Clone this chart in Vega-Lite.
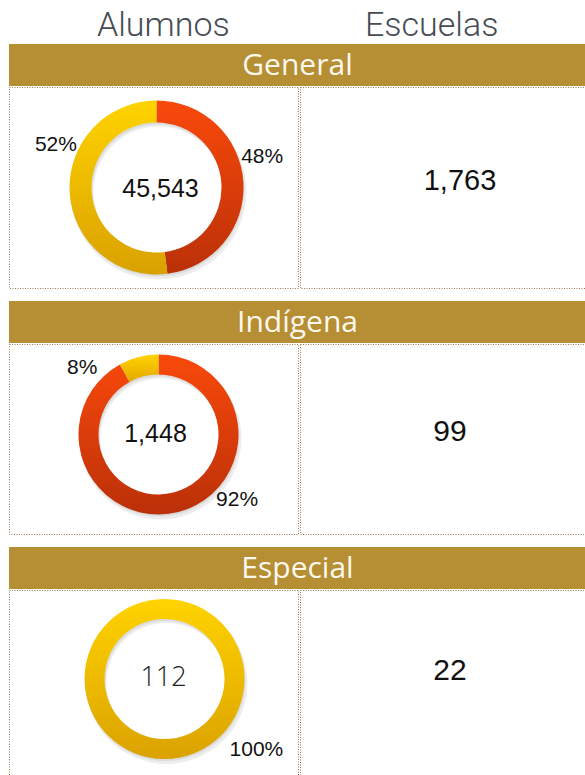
{
  "$schema": "https://vega.github.io/schema/vega-lite/v6.json",
  "padding": {"left": 8, "top": 0, "right": 0, "bottom": 0},
  "background": "white",
  "spacing": 12,
  "config": {"view": {"stroke": null}},
  "datasets": {
    "segmentos": [
      {"nivel": "General", "grupo": "A", "alumnos": 21861, "porcentaje": 0.48},
      {"nivel": "General", "grupo": "B", "alumnos": 23682, "porcentaje": 0.52},
      {"nivel": "Indígena", "grupo": "A", "alumnos": 1332, "porcentaje": 0.92},
      {"nivel": "Indígena", "grupo": "B", "alumnos": 116, "porcentaje": 0.08},
      {"nivel": "Especial", "grupo": "A", "alumnos": 0, "porcentaje": 0},
      {"nivel": "Especial", "grupo": "B", "alumnos": 112, "porcentaje": 1}
    ],
    "totales": [
      {"nivel": "General", "alumnos": 45543, "escuelas": 1763},
      {"nivel": "Indígena", "alumnos": 1448, "escuelas": 99},
      {"nivel": "Especial", "alumnos": 112, "escuelas": 22}
    ],
    "columnas": [{"columna": "Alumnos"}, {"columna": "Escuelas"}]
  },
  "vconcat": [
    {
      "spacing": 0,
      "vconcat": [
        {
          "width": 577, "height": 44,
          "data": {"name": "columnas"},
          "mark": {"type": "text", "font": "Roboto", "fontWeight": 300, "fontSize": 34, "color": "#474c54", "baseline": "middle", "dy": 4},
          "encoding": {
            "x": {"field": "columna", "type": "nominal", "scale": {"type": "point", "padding": 0.575}, "axis": null},
            "text": {"field": "columna"}
          }
        },
        {
          "width": 577, "height": 42,
          "view": {"fill": "#b68e34", "stroke": null},
          "data": {"name": "totales"},
          "transform": [{"filter": "datum.nivel === 'General'"}],
          "mark": {"type": "text", "font": "Open Sans", "fontSize": 30, "color": "#fdf8ee", "baseline": "middle", "dy": 1},
          "encoding": {"text": {"field": "nivel"}}
        },
        {
          "spacing": 0,
          "hconcat": [
            {
              "width": 289, "height": 201,
              "view": {"stroke": "#9a7650", "strokeDash": [1, 1.5], "strokeWidth": 1},
              "layer": [
                {
                  "data": {"name": "totales"},
                  "transform": [{"filter": "datum.nivel === 'General'"}],
                  "mark": {"type": "arc", "innerRadius": 65, "outerRadius": 88, "theta": 0, "theta2": 6.2832, "fill": "#000000", "opacity": 0.07, "xOffset": 5, "yOffset": 4},
                  "encoding": {}
                },
                {
                  "data": {"name": "totales"},
                  "transform": [{"filter": "datum.nivel === 'General'"}],
                  "mark": {"type": "arc", "innerRadius": 65, "outerRadius": 87, "theta": 0, "theta2": 6.2832, "fill": "#000000", "opacity": 0.07, "xOffset": 4, "yOffset": 2},
                  "encoding": {}
                },
                {
                  "data": {"name": "segmentos"},
                  "transform": [{"filter": "datum.nivel === 'General'"}],
                  "mark": {"type": "arc", "innerRadius": 65, "outerRadius": 87, "xOffset": 3},
                  "encoding": {
                    "theta": {"field": "alumnos", "type": "quantitative", "stack": true},
                    "order": {"field": "grupo"},
                    "fill": {
                      "condition": {"test": "datum.grupo === 'A'", "value": {"gradient": "linear", "x1": 0, "y1": 0, "x2": 0, "y2": 1, "stops": [{"offset": 0, "color": "#f9490b"}, {"offset": 1, "color": "#bb3008"}]}},
                      "value": {"gradient": "linear", "x1": 0, "y1": 0, "x2": 0, "y2": 1, "stops": [{"offset": 0, "color": "#ffd300"}, {"offset": 1, "color": "#d9a100"}]}
                    }
                  }
                },
                {
                  "data": {"name": "totales"},
                  "transform": [{"filter": "datum.nivel === 'General'"}],
                  "mark": {"type": "text", "font": "Liberation Sans", "fontSize": 25, "color": "#111111", "baseline": "middle", "xOffset": 7, "yOffset": 1},
                  "encoding": {"text": {"field": "alumnos", "format": ","}}
                },
                {
                  "data": {"name": "segmentos"},
                  "transform": [{"filter": "datum.nivel === 'General' && datum.grupo === 'A'"}],
                  "mark": {"type": "text", "font": "Liberation Sans", "fontSize": 21, "color": "#111111", "baseline": "middle", "xOffset": 3, "theta": 1.29, "radius": 110},
                  "encoding": {"text": {"field": "porcentaje", "format": ".0%"}}
                },
                {
                  "data": {"name": "segmentos"},
                  "transform": [{"filter": "datum.nivel === 'General' && datum.grupo === 'B'"}],
                  "mark": {"type": "text", "font": "Liberation Sans", "fontSize": 21, "color": "#111111", "baseline": "middle", "xOffset": 3, "theta": 5.109, "radius": 109},
                  "encoding": {"text": {"field": "porcentaje", "format": ".0%"}}
                }
              ]
            },
            {
              "width": 288, "height": 201,
              "view": {"stroke": "#9a7650", "strokeDash": [1, 1.5], "strokeWidth": 1},
              "data": {"name": "totales"},
              "transform": [{"filter": "datum.nivel === 'General'"}],
              "mark": {"type": "text", "font": "Liberation Sans", "fontSize": 29, "color": "#111111", "baseline": "middle", "dx": 16, "dy": -7},
              "encoding": {"text": {"field": "escuelas", "format": ","}}
            }
          ]
        }
      ]
    },
    {
      "spacing": 0,
      "vconcat": [
        {
          "width": 577, "height": 42,
          "view": {"fill": "#b68e34", "stroke": null},
          "data": {"name": "totales"},
          "transform": [{"filter": "datum.nivel === 'Indígena'"}],
          "mark": {"type": "text", "font": "Open Sans", "fontSize": 30, "color": "#fdf8ee", "baseline": "middle", "dy": 1},
          "encoding": {"text": {"field": "nivel"}}
        },
        {
          "spacing": 0,
          "hconcat": [
            {
              "width": 289, "height": 190,
              "view": {"stroke": "#9a7650", "strokeDash": [1, 1.5], "strokeWidth": 1},
              "layer": [
                {
                  "data": {"name": "totales"},
                  "transform": [{"filter": "datum.nivel === 'Indígena'"}],
                  "mark": {"type": "arc", "innerRadius": 60, "outerRadius": 81, "theta": 0, "theta2": 6.2832, "fill": "#000000", "opacity": 0.07, "xOffset": 7, "yOffset": -0.5},
                  "encoding": {}
                },
                {
                  "data": {"name": "totales"},
                  "transform": [{"filter": "datum.nivel === 'Indígena'"}],
                  "mark": {"type": "arc", "innerRadius": 60, "outerRadius": 80, "theta": 0, "theta2": 6.2832, "fill": "#000000", "opacity": 0.07, "xOffset": 6, "yOffset": -2.5},
                  "encoding": {}
                },
                {
                  "data": {"name": "segmentos"},
                  "transform": [{"filter": "datum.nivel === 'Indígena'"}],
                  "mark": {"type": "arc", "innerRadius": 60, "outerRadius": 80, "xOffset": 5, "yOffset": -4.5},
                  "encoding": {
                    "theta": {"field": "alumnos", "type": "quantitative", "stack": true},
                    "order": {"field": "grupo"},
                    "fill": {
                      "condition": {"test": "datum.grupo === 'A'", "value": {"gradient": "linear", "x1": 0, "y1": 0, "x2": 0, "y2": 1, "stops": [{"offset": 0, "color": "#f9490b"}, {"offset": 1, "color": "#bb3008"}]}},
                      "value": {"gradient": "linear", "x1": 0, "y1": 0, "x2": 0, "y2": 1, "stops": [{"offset": 0, "color": "#ffd300"}, {"offset": 1, "color": "#e4a800"}]}
                    }
                  }
                },
                {
                  "data": {"name": "totales"},
                  "transform": [{"filter": "datum.nivel === 'Indígena'"}],
                  "mark": {"type": "text", "font": "Liberation Sans", "fontSize": 25, "color": "#111111", "baseline": "middle", "xOffset": 2, "yOffset": -5.5},
                  "encoding": {"text": {"field": "alumnos", "format": ","}}
                },
                {
                  "data": {"name": "segmentos"},
                  "transform": [{"filter": "datum.nivel === 'Indígena' && datum.grupo === 'A'"}],
                  "mark": {"type": "text", "font": "Liberation Sans", "fontSize": 21, "color": "#111111", "baseline": "middle", "xOffset": 5, "yOffset": -4.5, "theta": 2.262, "radius": 102},
                  "encoding": {"text": {"field": "porcentaje", "format": ".0%"}}
                },
                {
                  "data": {"name": "segmentos"},
                  "transform": [{"filter": "datum.nivel === 'Indígena' && datum.grupo === 'B'"}],
                  "mark": {"type": "text", "font": "Liberation Sans", "fontSize": 21, "color": "#111111", "baseline": "middle", "xOffset": 5, "yOffset": -4.5, "theta": 5.428, "radius": 101},
                  "encoding": {"text": {"field": "porcentaje", "format": ".0%"}}
                }
              ]
            },
            {
              "width": 288, "height": 190,
              "view": {"stroke": "#9a7650", "strokeDash": [1, 1.5], "strokeWidth": 1},
              "data": {"name": "totales"},
              "transform": [{"filter": "datum.nivel === 'Indígena'"}],
              "mark": {"type": "text", "font": "Liberation Sans", "fontSize": 30, "color": "#111111", "baseline": "middle", "dx": 6, "dy": -7},
              "encoding": {"text": {"field": "escuelas", "format": ","}}
            }
          ]
        }
      ]
    },
    {
      "spacing": 0,
      "vconcat": [
        {
          "width": 577, "height": 42,
          "view": {"fill": "#b68e34", "stroke": null},
          "data": {"name": "totales"},
          "transform": [{"filter": "datum.nivel === 'Especial'"}],
          "mark": {"type": "text", "font": "Open Sans", "fontSize": 30, "color": "#fdf8ee", "baseline": "middle", "dy": 1},
          "encoding": {"text": {"field": "nivel"}}
        },
        {
          "spacing": 0,
          "hconcat": [
            {
              "width": 289, "height": 192,
              "view": {"stroke": "#9a7650", "strokeDash": [1, 1.5], "strokeWidth": 1},
              "layer": [
                {
                  "data": {"name": "totales"},
                  "transform": [{"filter": "datum.nivel === 'Especial'"}],
                  "mark": {"type": "arc", "innerRadius": 60, "outerRadius": 81, "theta": 0, "theta2": 6.2832, "fill": "#000000", "opacity": 0.07, "xOffset": 13, "yOffset": -3},
                  "encoding": {}
                },
                {
                  "data": {"name": "totales"},
                  "transform": [{"filter": "datum.nivel === 'Especial'"}],
                  "mark": {"type": "arc", "innerRadius": 60, "outerRadius": 80, "theta": 0, "theta2": 6.2832, "fill": "#000000", "opacity": 0.07, "xOffset": 12, "yOffset": -5},
                  "encoding": {}
                },
                {
                  "data": {"name": "segmentos"},
                  "transform": [{"filter": "datum.nivel === 'Especial'"}],
                  "mark": {"type": "arc", "innerRadius": 60, "outerRadius": 80, "xOffset": 11, "yOffset": -7},
                  "encoding": {
                    "theta": {"field": "alumnos", "type": "quantitative", "stack": true},
                    "order": {"field": "grupo"},
                    "fill": {
                      "condition": {"test": "datum.grupo === 'A'", "value": {"gradient": "linear", "x1": 0, "y1": 0, "x2": 0, "y2": 1, "stops": [{"offset": 0, "color": "#f9490b"}, {"offset": 1, "color": "#bb3008"}]}},
                      "value": {"gradient": "linear", "x1": 0, "y1": 0, "x2": 0, "y2": 1, "stops": [{"offset": 0, "color": "#ffd300"}, {"offset": 1, "color": "#dba200"}]}
                    }
                  }
                },
                {
                  "data": {"name": "totales"},
                  "transform": [{"filter": "datum.nivel === 'Especial'"}],
                  "mark": {"type": "text", "font": "Open Sans", "fontWeight": 300, "fontSize": 27, "color": "#222222", "baseline": "middle", "xOffset": 10, "yOffset": -8.5},
                  "encoding": {"text": {"field": "alumnos", "format": ","}}
                },
                {
                  "data": {"name": "segmentos"},
                  "transform": [{"filter": "datum.nivel === 'Especial' && datum.grupo === 'B'"}],
                  "mark": {"type": "text", "font": "Liberation Sans", "fontSize": 21, "color": "#111111", "baseline": "middle", "xOffset": 11, "yOffset": -7, "theta": 2.227, "radius": 116},
                  "encoding": {"text": {"field": "porcentaje", "format": ".0%"}}
                }
              ]
            },
            {
              "width": 288, "height": 192,
              "view": {"stroke": "#9a7650", "strokeDash": [1, 1.5], "strokeWidth": 1},
              "data": {"name": "totales"},
              "transform": [{"filter": "datum.nivel === 'Especial'"}],
              "mark": {"type": "text", "font": "Liberation Sans", "fontSize": 30, "color": "#111111", "baseline": "middle", "dx": 6, "dy": -15},
              "encoding": {"text": {"field": "escuelas", "format": ","}}
            }
          ]
        }
      ]
    }
  ]
}
